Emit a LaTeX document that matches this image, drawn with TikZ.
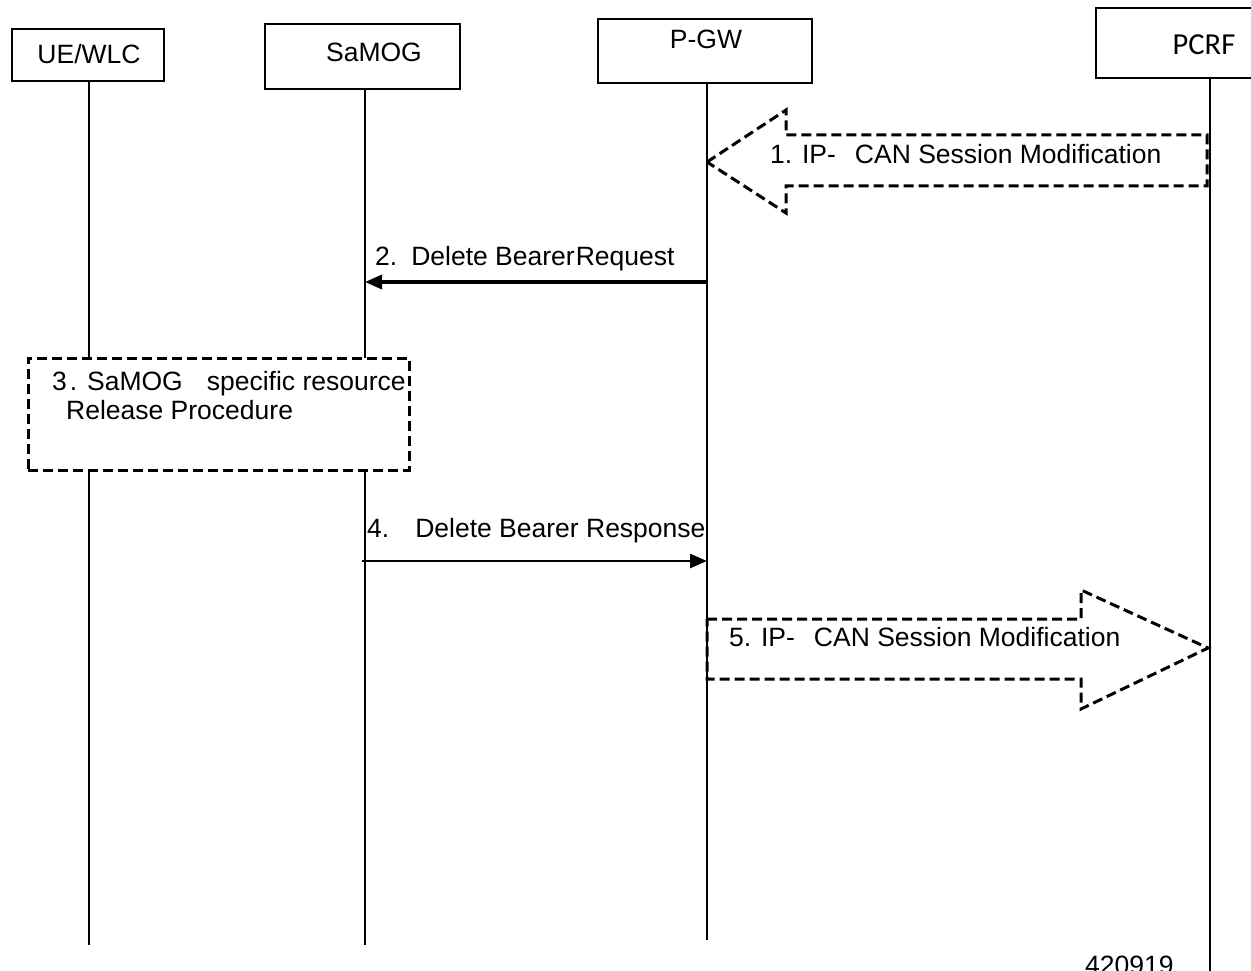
\documentclass[tikz,border=0pt]{standalone}
\usepackage{fontspec}
\setmainfont{Liberation Sans}
\newfontfamily\calib{Carlito}
\usetikzlibrary{arrows.meta}
\begin{document}
\begin{tikzpicture}[x=1pt,y=-1pt,
  actor/.style={draw, line width=1.4pt, inner sep=0pt, fill=white},
  life/.style={line width=1.8pt},
  lbl/.style={inner sep=0pt, anchor=base west, font=\fontsize{26.5}{30}\selectfont},
  ttl/.style={inner sep=0pt, anchor=base, font=\fontsize{26.5}{30}\selectfont},
  dashline/.style={line width=3pt, dash pattern=on 10pt off 5pt},
  msg/.style={-{Triangle[length=17pt,width=14pt]}}
]
\useasboundingbox (0,0) rectangle (1251,971);

% actor boxes
\node[actor, minimum width=152pt, minimum height=52pt] (ue) at (88,55) {};
\node[actor, minimum width=195pt, minimum height=65pt] (samog) at (362.5,56.5) {};
\node[actor, minimum width=214pt, minimum height=64pt] (pgw) at (705,51) {};
\node[actor, minimum width=224pt, minimum height=70pt] (pcrf) at (1208,43) {};

\node[ttl] (uet) at (89,64) {UE/WLC};
\node[ttl] (samogt) at (374,62) {SaMOG};
\node[ttl] (pgwt) at (706,49) {P-GW};
\node[inner sep=0pt, anchor=base, font=\calib\fontsize{30.5}{33}\selectfont] (pcrft) at (1204,55) {PCRF};

% lifeline ends
\coordinate (uel) at (89,945);
\coordinate (samogl) at (365,945);
\coordinate (pgwl) at (707,940);
\coordinate (pcrfl) at (1210,971);

\draw[life] (ue.south -| uel) -- (uel);
\draw[life] (samog.south -| samogl) -- (samogl);
\draw[life] (pgw.south -| pgwl) -- (pgwl);
\draw[life] (pcrf.south -| pcrfl) -- (pcrfl);

% 1. hollow arrow PCRF -> P-GW
\coordinate (a1tip) at (707,162);
\draw[dashline] (a1tip) -- (786,110) -- (786,135) -- (1207,135) -- (1207,186) -- (786,186) -- (786,213) -- cycle;
\node[lbl] (l1) at (770,164) {1. IP-\hspace{19pt}CAN Session Modification};

% 2. Delete Bearer Request
\coordinate (m2p) at (707,282);
\coordinate (m2s) at (365,282);
\draw[msg, line width=3.5pt] (m2p) -- (m2s);
\node[lbl] (l2) at (375,265) {2.\hspace{14pt}Delete Bearer\hspace{1pt}Request};

% 3. box
\node[draw, dashline, fill=white, minimum width=381pt, minimum height=112pt, inner sep=0pt] (b3) at (218.5,414) {};
\node[lbl] (l3a) at (52,390) {3\hspace{3pt}. SaMOG\hspace{24pt}specific resource};
\node[lbl] (l3b) at (66,419) {Release Procedure};

% 4. Delete Bearer Response
\coordinate (m4s) at (362,561);
\coordinate (m4p) at (707,561);
\draw[msg, line width=2.5pt] (m4s) -- (m4p);
\node[lbl] (l4) at (367,537) {4.\hspace{26pt}Delete Bearer Response};

% 5. hollow arrow P-GW -> PCRF
\coordinate (a5tip) at (1208,648);
\draw[dashline] (707,619) -- (1081,619) -- (1081,590) -- (a5tip) -- (1081,709) -- (1081,679) -- (707,679) -- cycle;
\node[lbl] (l5) at (729,646) {5. IP-\hspace{19pt}CAN Session Modification};

\node[lbl] (num) at (1085,974) {420919};
\end{tikzpicture}
\end{document}
